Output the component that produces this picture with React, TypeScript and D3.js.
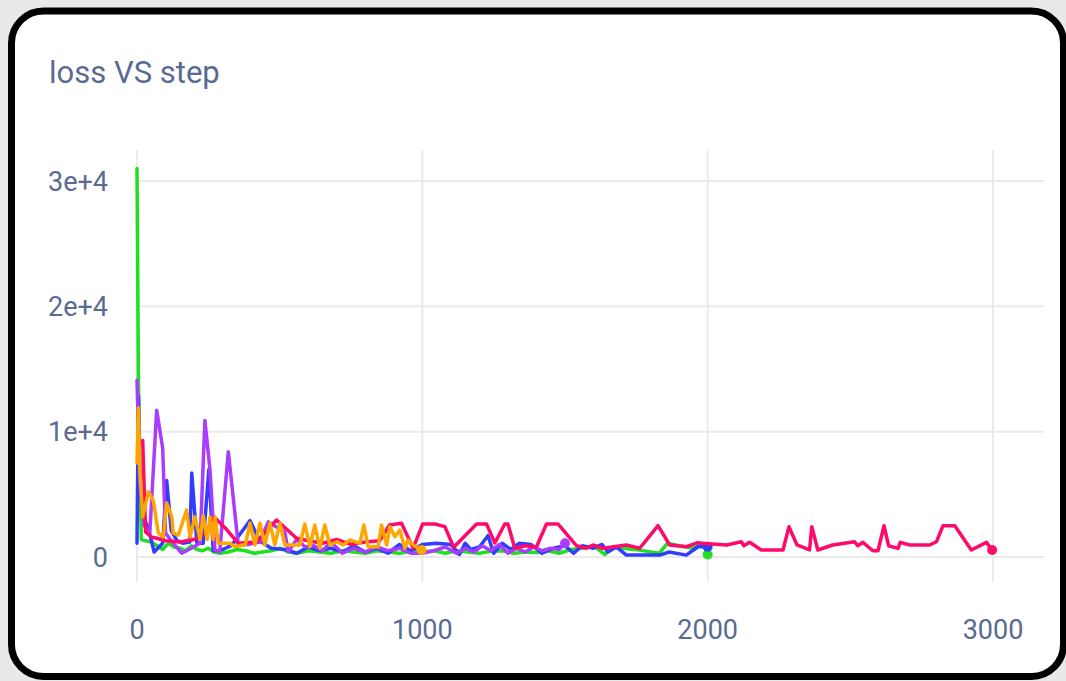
import React from 'react';
import * as d3 from 'd3';

type Pt = [number, number];

// step, loss
const pinkRun: Pt[] = [
  [20, 9300], [30, 2000], [50, 1600], [70, 1500], [100, 1300], [150, 1200], [200, 1400], [240, 1900],
  [270, 3200], [310, 2300], [354, 1100], [420, 1200], [489, 2950], [559, 1490], [600, 1300], [650, 1100],
  [700, 1400], [750, 1000], [800, 1200], [850, 1300], [885, 2550], [927, 2690], [968, 700], [1001, 2630],
  [1044, 2630], [1079, 2420], [1110, 770], [1190, 2630], [1225, 2630], [1254, 1120], [1289, 2630],
  [1300, 2630], [1324, 700], [1360, 900], [1400, 800], [1435, 2630], [1476, 2630], [1540, 900],
  [1575, 700], [1598, 960], [1633, 700], [1715, 960], [1762, 700], [1826, 2500], [1867, 960],
  [1925, 820], [1966, 1140], [1980, 1090], [2066, 960], [2118, 1220], [2127, 900], [2147, 1170],
  [2188, 560], [2264, 560], [2285, 2420], [2313, 960], [2357, 560], [2365, 2420], [2386, 560],
  [2438, 960], [2515, 1220], [2526, 900], [2544, 1170], [2579, 500], [2597, 500], [2618, 2500],
  [2634, 900], [2667, 690], [2675, 1170], [2708, 960], [2778, 960], [2802, 1220], [2825, 2500],
  [2866, 2500], [2924, 560], [2977, 1170], [2997, 560],
];

const greenRun: Pt[] = [
  [0, 31000], [5, 14000], [15, 1400], [30, 1300], [50, 1200], [70, 900], [90, 600], [110, 1100],
  [130, 800], [150, 700], [170, 500], [190, 900], [210, 600], [230, 500], [250, 700], [270, 400],
  [290, 300], [320, 400], [350, 600], [380, 500], [410, 300], [440, 400], [470, 500], [500, 700],
  [530, 400], [560, 300], [600, 500], [640, 400], [680, 300], [720, 500], [760, 400], [800, 300],
  [840, 500], [880, 400], [920, 300], [960, 450], [1000, 400], [1040, 500], [1080, 300], [1120, 500],
  [1160, 400], [1200, 300], [1240, 450], [1280, 500], [1320, 300], [1360, 400], [1400, 350],
  [1440, 500], [1480, 300], [1520, 600], [1560, 700], [1600, 900], [1640, 200], [1670, 800],
  [1700, 700], [1760, 550], [1830, 300], [1860, 1100], [1900, 900], [1950, 700], [1985, 1100],
  [2000, 200],
];

const blueRun: Pt[] = [
  [0, 1100], [5, 12800], [10, 6000], [20, 3300], [40, 2300], [60, 400], [90, 1100], [104, 6100],
  [120, 2100], [140, 1300], [160, 1100], [185, 1200], [192, 6700], [210, 1100], [232, 1100],
  [252, 7000], [267, 500], [290, 500], [330, 900], [360, 1800], [396, 2900], [430, 1300], [470, 700],
  [520, 600], [560, 300], [600, 800], [640, 500], [680, 700], [720, 400], [760, 900], [800, 400],
  [840, 700], [880, 300], [920, 1000], [960, 500], [1000, 1000], [1050, 1100], [1100, 1000],
  [1130, 200], [1150, 1100], [1170, 600], [1200, 800], [1230, 1700], [1250, 300], [1280, 1100],
  [1310, 600], [1340, 1100], [1380, 1000], [1420, 300], [1460, 700], [1500, 900], [1530, 300],
  [1560, 900], [1600, 700], [1630, 1000], [1650, 400], [1680, 800], [1715, 150], [1832, 150],
  [1865, 400], [1925, 150], [1966, 820], [2000, 820],
];

const purpleRun: Pt[] = [
  [0, 14100], [10, 6000], [25, 2500], [45, 2000], [69, 11700], [90, 8700], [100, 1900], [127, 1100],
  [157, 300], [190, 700], [221, 1100], [238, 10900], [256, 6900], [273, 560], [290, 400], [320, 8400],
  [355, 960], [390, 1000], [430, 1200], [460, 2800], [518, 2000], [530, 420], [560, 1400], [590, 800],
  [620, 900], [650, 500], [680, 1200], [720, 300], [760, 700], [800, 400], [840, 800], [880, 500],
  [920, 700], [960, 300], [1000, 300], [1040, 500], [1080, 800], [1120, 300], [1150, 700],
  [1180, 400], [1210, 900], [1240, 500], [1270, 1000], [1300, 300], [1330, 700], [1360, 400],
  [1390, 800], [1420, 500], [1450, 700], [1480, 600], [1500, 1090],
];

const orangeRun: Pt[] = [
  [0, 7500], [5, 11900], [10, 6900], [20, 3200], [40, 5200], [57, 4500], [75, 1900], [92, 1600],
  [104, 4300], [122, 3200], [127, 1900], [145, 1750], [174, 3750], [186, 1600], [203, 3200],
  [221, 1400], [232, 3300], [246, 1400], [256, 3200], [267, 1400], [273, 3200], [285, 1100],
  [326, 1100], [343, 820], [380, 1000], [396, 2700], [413, 960], [431, 2700], [448, 960], [466, 2700],
  [483, 960], [501, 2700], [518, 960], [571, 960], [588, 2630], [606, 820], [623, 2550], [641, 700],
  [658, 2550], [676, 960], [700, 1220], [723, 960], [746, 1360], [781, 1090], [795, 2550], [810, 820],
  [845, 820], [857, 2550], [875, 960], [886, 2420], [904, 1620], [921, 2150], [939, 700], [950, 1360],
  [968, 960], [997, 560],
];

const series = [
  { name: 'green', color: '#1ee01e', data: greenRun },
  { name: 'blue', color: '#2f3dff', data: blueRun },
  { name: 'purple', color: '#a93cff', data: purpleRun },
  { name: 'pink', color: '#ff0a6c', data: pinkRun },
  { name: 'orange', color: '#ffa500', data: orangeRun },
];

const xTicks = [0, 1000, 2000, 3000];
const yTicks = [0, 10000, 20000, 30000];
const yTickLabels = ['0', '1e+4', '2e+4', '3e+4'];

const W = 1066;
const H = 681;
const textColor = '#5a6a92';
const gridColor = '#ebebeb';

export default function App() {
  const x = d3.scaleLinear().domain([0, 3000]).range([137, 993]);
  const y = d3.scaleLinear().domain([0, 30000]).range([557, 181]);
  const gridRight = 1044;
  const gridTop = 150;
  const gridBottom = 582;

  const line = d3.line<Pt>()
    .x(d => x(d[0]))
    .y(d => y(d[1]));

  return (
    <div style={{ position: 'fixed', left: 0, top: 0, width: W, height: H, background: '#e9e9e9' }}>
      <svg width={W} height={H} style={{ display: 'block', fontFamily: 'Roboto, sans-serif' }}>
        <rect x={11.5} y={11} width={1052} height={665.5} rx={32} ry={32}
          fill="#ffffff" stroke="#000000" strokeWidth={7} />

        <text x={49} y={83} fontSize={31} fill={textColor}>loss VS step</text>

        {/* grid */}
        {yTicks.map(t => (
          <line key={'gy' + t} x1={x(0)} x2={gridRight} y1={y(t)} y2={y(t)}
            stroke={gridColor} strokeWidth={2} />
        ))}
        {xTicks.map(t => (
          <line key={'gx' + t} x1={x(t)} x2={x(t)} y1={gridTop} y2={gridBottom}
            stroke={gridColor} strokeWidth={2} />
        ))}

        {/* tick labels */}
        {yTicks.map((t, i) => (
          <text key={'ly' + t} x={108} y={y(t)} dy="0.36em" textAnchor="end"
            fontSize={27} fill={textColor}>{yTickLabels[i]}</text>
        ))}
        {xTicks.map(t => (
          <text key={'lx' + t} x={x(t)} y={639} textAnchor="middle"
            fontSize={27} fill={textColor}>{t}</text>
        ))}

        {/* series */}
        {series.map(s => (
          <g key={s.name}>
            <path d={line(s.data) || ''} fill="none" stroke={s.color} strokeWidth={3.5}
              strokeLinejoin="round" strokeLinecap="round" />
            <circle cx={x(s.data[s.data.length - 1][0])} cy={y(s.data[s.data.length - 1][1])}
              r={5} fill={s.color} />
          </g>
        ))}
      </svg>
    </div>
  );
}
